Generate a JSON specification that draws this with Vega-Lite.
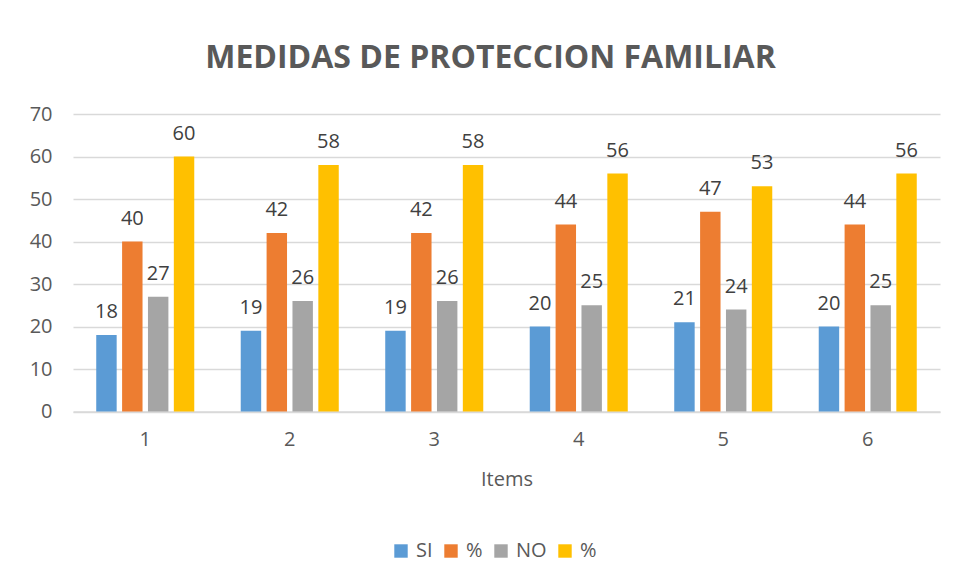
{
  "$schema": "https://vega.github.io/schema/vega-lite/v6.json",
  "width": 867,
  "height": 297.5,
  "autosize": {"type": "none"},
  "padding": {"left": 73, "top": 114, "right": 15, "bottom": 174},
  "background": "white",
  "config": {
    "view": {"stroke": null},
    "font": "Open Sans"
  },
  "title": {
    "text": "MEDIDAS DE PROTECCION FAMILIAR",
    "anchor": "middle",
    "frame": "group",
    "dx": -16,
    "offset": 4,
    "fontSize": 32,
    "font": "Open Sans",
    "fontWeight": "bold",
    "color": "#595959",
    "baseline": "alphabetic"
  },
  "data": {
    "values": [
      {"item": "1", "serie": "SI", "value": 18},
      {"item": "1", "serie": "%1", "value": 40},
      {"item": "1", "serie": "NO", "value": 27},
      {"item": "1", "serie": "%2", "value": 60},
      {"item": "2", "serie": "SI", "value": 19},
      {"item": "2", "serie": "%1", "value": 42},
      {"item": "2", "serie": "NO", "value": 26},
      {"item": "2", "serie": "%2", "value": 58},
      {"item": "3", "serie": "SI", "value": 19},
      {"item": "3", "serie": "%1", "value": 42},
      {"item": "3", "serie": "NO", "value": 26},
      {"item": "3", "serie": "%2", "value": 58},
      {"item": "4", "serie": "SI", "value": 20},
      {"item": "4", "serie": "%1", "value": 44},
      {"item": "4", "serie": "NO", "value": 25},
      {"item": "4", "serie": "%2", "value": 56},
      {"item": "5", "serie": "SI", "value": 21},
      {"item": "5", "serie": "%1", "value": 47},
      {"item": "5", "serie": "NO", "value": 24},
      {"item": "5", "serie": "%2", "value": 53},
      {"item": "6", "serie": "SI", "value": 20},
      {"item": "6", "serie": "%1", "value": 44},
      {"item": "6", "serie": "NO", "value": 25},
      {"item": "6", "serie": "%2", "value": 56}
    ]
  },
  "encoding": {
    "x": {
      "field": "item",
      "type": "ordinal",
      "scale": {"paddingInner": 0.284, "paddingOuter": 0.142},
      "axis": {
        "labelAngle": 0,
        "labelFontSize": 20,
        "labelColor": "#595959",
        "labelPadding": 18,
        "ticks": false,
        "domainColor": "#D9D9D9",
        "domainWidth": 1.5,
        "title": "Items",
        "titleFontSize": 20,
        "titleFontWeight": "normal",
        "titleColor": "#595959",
        "titlePadding": 20
      }
    },
    "xOffset": {
      "field": "serie",
      "type": "nominal",
      "sort": ["SI", "%1", "NO", "%2"],
      "scale": {"paddingInner": 0.21, "paddingOuter": 0.105}
    },
    "y": {
      "field": "value",
      "type": "quantitative",
      "scale": {"domain": [0, 70], "nice": false},
      "axis": {
        "values": [0, 10, 20, 30, 40, 50, 60, 70],
        "grid": true,
        "gridColor": "#D9D9D9",
        "gridWidth": 1.5,
        "domain": false,
        "ticks": false,
        "labelPadding": 21,
        "labelFontSize": 20,
        "labelColor": "#595959",
        "title": null
      }
    }
  },
  "layer": [
    {
      "mark": {"type": "bar"},
      "encoding": {
        "color": {
          "field": "serie",
          "type": "nominal",
          "scale": {
            "domain": ["SI", "%1", "NO", "%2"],
            "range": ["#5B9BD5", "#ED7D31", "#A5A5A5", "#FFC000"]
          },
          "legend": {
            "orient": "none",
            "legendX": 318,
            "legendY": 427,
            "direction": "horizontal",
            "title": null,
            "symbolType": "square",
            "symbolSize": 180,
            "symbolStrokeWidth": 0,
            "labelFontSize": 20,
            "labelColor": "#595959",
            "labelOffset": 5,
            "columnPadding": 8,
            "labelExpr": "datum.label == '%1' || datum.label == '%2' ? '%' : datum.label"
          }
        }
      }
    },
    {
      "mark": {"type": "text", "dy": -17, "baseline": "alphabetic", "fontSize": 20, "color": "#404040"},
      "encoding": {"text": {"field": "value", "type": "quantitative"}}
    }
  ]
}
